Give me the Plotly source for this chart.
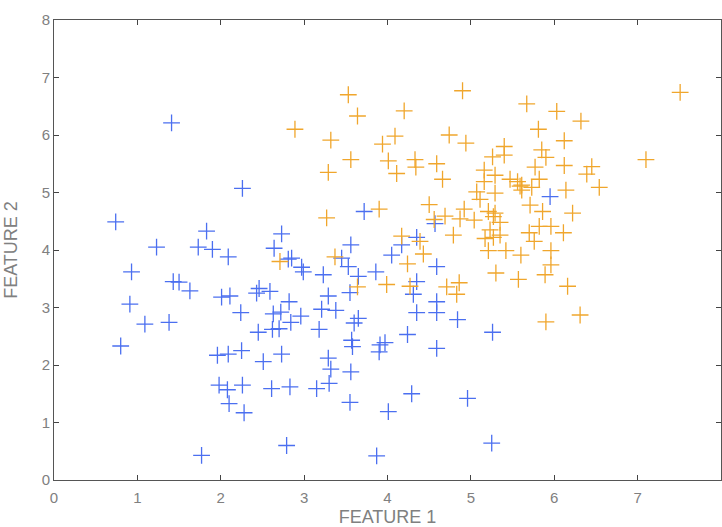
import plotly.graph_objects as go

blue_x = [0.74, 0.93, 0.91, 0.80, 1.09, 1.23, 1.38, 1.41, 1.43, 1.50, 1.63, 1.73, 1.83, 1.90, 1.77, 1.96,
          1.98, 2.01, 2.09, 2.11, 2.09, 2.08, 2.10, 2.26, 2.28, 2.26, 2.24, 2.25, 2.43, 2.46, 2.45, 2.51,
          2.59, 2.61, 2.64, 2.62, 2.63, 2.70, 2.72, 2.73, 2.73, 2.81, 2.85, 2.82, 2.84, 2.83, 2.79, 2.96,
          2.97, 2.99, 3.15, 3.18, 3.21, 3.23, 3.29, 3.29, 3.30, 3.32, 3.38, 3.45, 3.53, 3.55, 3.56, 3.56,
          3.55, 3.57, 3.58, 3.60, 3.65, 3.65, 3.72, 3.86, 3.87, 3.90, 3.91, 3.97, 4.01, 4.05, 4.17, 4.24,
          4.29, 4.31, 4.35, 4.35, 4.35, 4.57, 4.59, 4.59, 4.59, 4.59, 4.84, 4.96, 5.25, 5.26, 5.95]
blue_y = [4.49, 3.62, 3.06, 2.33, 2.71, 4.05, 2.74, 6.21, 3.45, 3.44, 3.29, 4.05, 4.33, 4.01, 0.43, 2.17,
          1.65, 3.18, 3.88, 3.20, 2.19, 1.57, 1.33, 1.65, 1.17, 5.07, 2.91, 2.25, 3.25, 3.33, 2.57, 2.06,
          3.28, 1.59, 4.03, 2.62, 2.89, 2.63, 2.92, 4.28, 2.19, 3.84, 3.86, 3.10, 2.74, 1.62, 0.60, 2.85,
          3.70, 3.62, 1.59, 2.62, 2.97, 3.57, 3.20, 2.12, 1.68, 1.93, 2.95, 3.86, 3.71, 3.26, 4.09, 1.88,
          1.35, 2.43, 2.32, 2.73, 2.81, 3.54, 4.67, 3.62, 0.42, 2.23, 2.35, 2.39, 1.19, 3.91, 4.09, 2.53,
          1.50, 3.23, 3.45, 4.22, 2.91, 4.46, 3.71, 3.10, 2.91, 2.29, 2.79, 1.42, 0.64, 2.57, 4.93]

orange_x = [2.71, 2.89, 3.27, 3.29, 3.32, 3.37, 3.53, 3.56, 3.64, 3.64, 3.90, 3.94, 3.99, 4.01, 4.09, 4.11,
            4.17, 4.20, 4.24, 4.27, 4.33, 4.34, 4.39, 4.43, 4.50, 4.56, 4.59, 4.66, 4.69, 4.71, 4.74, 4.79,
            4.83, 4.86, 4.87, 4.90, 4.92, 4.94, 5.04, 5.07, 5.11, 5.16, 5.16, 5.17, 5.21, 5.21, 5.23, 5.26,
            5.27, 5.27, 5.29, 5.29, 5.29, 5.30, 5.35, 5.35, 5.40, 5.40, 5.42, 5.47, 5.56, 5.57, 5.59, 5.60,
            5.61, 5.61, 5.67, 5.70, 5.71, 5.73, 5.76, 5.77, 5.81, 5.82, 5.82, 5.85, 5.86, 5.89, 5.90, 5.90,
            5.96, 5.96, 5.96, 6.03, 6.11, 6.12, 6.12, 6.14, 6.16, 6.22, 6.31, 6.32, 6.39, 6.45, 6.54, 7.10, 7.51]
orange_y = [3.80, 6.10, 4.56, 5.35, 5.91, 3.88, 6.70, 5.57, 6.33, 3.36, 4.71, 5.84, 3.40, 5.55, 5.98, 5.33,
            4.24, 6.42, 3.76, 3.37, 5.57, 5.44, 4.15, 3.93, 4.79, 4.53, 5.50, 5.23, 4.59, 3.36, 6.00, 4.26,
            3.23, 3.43, 4.54, 6.77, 4.71, 5.86, 4.52, 5.01, 4.88, 5.39, 5.19, 4.20, 4.67, 3.99, 4.35, 5.62,
            4.22, 4.58, 4.99, 5.30, 4.64, 3.60, 4.26, 4.48, 5.65, 5.80, 3.99, 5.23, 5.19, 3.49, 5.11, 3.91,
            5.13, 5.04, 6.54, 4.30, 4.78, 5.09, 4.15, 5.44, 6.10, 5.23, 4.41, 5.74, 4.67, 3.57, 5.61, 2.75,
            4.41, 3.99, 3.74, 6.41, 4.30, 5.90, 5.47, 5.04, 3.37, 4.64, 2.87, 6.24, 5.32, 5.45, 5.09, 5.57, 6.74]

tick_vals = [0, 1, 2, 3, 4, 5, 6, 7, 8]
tick_text = ["0", "1", "2", "3", "4", "5", "6", "7", "8"]

fig = go.Figure()
fig.add_trace(go.Scatter(x=blue_x, y=blue_y, mode="markers",
                         marker=dict(symbol="cross-thin", size=12, line=dict(width=1.3, color="#4b6ff0"))))
fig.add_trace(go.Scatter(x=orange_x, y=orange_y, mode="markers",
                         marker=dict(symbol="cross-thin", size=12, line=dict(width=1.3, color="#f0a62c"))))

font = "Liberation Sans, Arial"
axis_common = dict(range=[0, 8], tickvals=tick_vals, ticktext=tick_text, showgrid=False, zeroline=False,
                   showline=True, linecolor="#555555", linewidth=1, mirror="ticks", ticks="inside",
                   ticklen=5, tickcolor="#444444",
                   tickfont=dict(family=font, size=15, color="#808080"))
fig.update_xaxes(**axis_common, ticklabelstandoff=4,
                 title=dict(text="FEATURE 1", standoff=5, font=dict(family=font, size=18, color="#808080")))
fig.update_yaxes(**axis_common,
                 title=dict(text="FEATURE 2", standoff=19, font=dict(family=font, size=18, color="#808080")))

fig.update_layout(width=722, height=527, margin=dict(l=54, r=1, t=20, b=47, autoexpand=False),
                  paper_bgcolor="white", plot_bgcolor="white", showlegend=False)
fig.write_html("out.html")
